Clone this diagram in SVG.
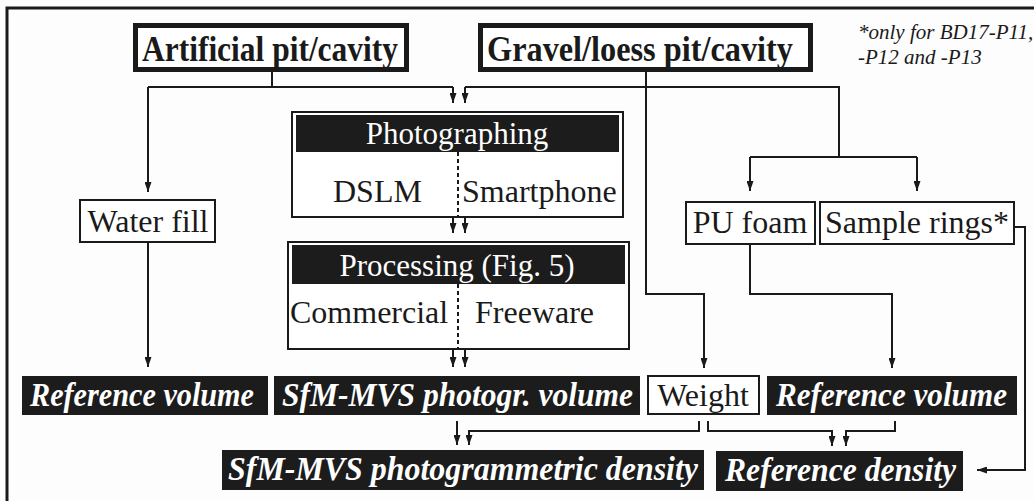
<svg xmlns="http://www.w3.org/2000/svg" width="1034" height="501" viewBox="0 0 1034 501">
<defs>
<marker id="ah" viewBox="0 0 10 7" refX="10" refY="3.5" markerWidth="10" markerHeight="7" markerUnits="userSpaceOnUse" orient="auto">
<path d="M0,0 L10,3.5 L0,7 z" fill="#1a1a1a"/>
</marker>
<style>
.t{font-family:"Liberation Serif","Times New Roman",serif;fill:#1a1a1a}
.reg{font-size:32px}
.bold{font-size:36px;font-weight:bold}
.wb{font-size:34px;font-weight:bold;font-style:italic;fill:#fff}
.wr{font-size:31px;fill:#fff}
.note{font-size:21px;font-style:italic}
.blk{fill:#1c1c1c}
.box{fill:#fff;stroke:#1a1a1a;stroke-width:2}
.thick{fill:#fff;stroke:#1a1a1a;stroke-width:5}
.c{fill:none;stroke:#1a1a1a;stroke-width:2}
.a{marker-end:url(#ah)}
.dot{stroke:#1a1a1a;stroke-width:2;stroke-dasharray:4 3}
</style>
</defs>
<rect width="1034" height="501" fill="#fdfdfd"/>
<g id="frame"><path d="M7,501 V8 H1034" fill="none" stroke="#1a1a1a" stroke-width="3"/></g>

<g id="connectors">
<path class="c" d="M272,72 V87 M148,87 H453"/>
<path class="c a" d="M148,87 V192"/>
<path class="c a" d="M453,87 V103"/>
<path class="c a" d="M646,72 V294 H704 V368"/>
<path class="c" d="M465,87 H839 V157 M750,157 H917"/>
<path class="c a" d="M465,87 V103"/>
<path class="c a" d="M750,157 V191"/>
<path class="c a" d="M917,157 V191"/>
<path class="c a" d="M453,217 V233"/>
<path class="c a" d="M465,217 V233"/>
<path class="c a" d="M453,349 V367"/>
<path class="c a" d="M465,349 V367"/>
<path class="c a" d="M148,242 V367"/>
<path class="c a" d="M750,244 V294 H892 V368"/>
<path class="c a" d="M1014,227 H1025 V470 H977"/>
<path class="c a" d="M457,421 V445"/>
<path class="c a" d="M699,421 V431 H469 V445"/>
<path class="c a" d="M708,421 V431 H832 V446"/>
<path class="c a" d="M895,421 V431 H846 V446"/>
</g>

<g id="artificial">
<rect class="thick" x="135.5" y="25.5" width="271" height="44"/>
<text class="t bold" x="142" y="61" textLength="256" lengthAdjust="spacingAndGlyphs">Artificial pit/cavity</text>
</g>
<g id="gravel">
<rect class="thick" x="480.5" y="25.5" width="330" height="44"/>
<text class="t bold" x="487" y="61" textLength="306" lengthAdjust="spacingAndGlyphs">Gravel/loess pit/cavity</text>
</g>
<g id="note">
<text class="t note" x="858" y="39">*only for BD17-P11,</text>
<text class="t note" x="858" y="64">-P12 and -P13</text>
</g>

<g id="photographing">
<rect class="box" x="292" y="112" width="331" height="105"/>
<rect class="blk" x="296" y="115" width="323" height="37"/>
<text class="t wr" x="457" y="144" text-anchor="middle">Photographing</text>
<line class="dot" x1="458" y1="152" x2="458" y2="217"/>
<text class="t reg" x="333" y="202">DSLM</text>
<text class="t reg" x="462" y="202">Smartphone</text>
</g>

<g id="processing">
<rect class="box" x="288" y="242" width="341" height="107"/>
<rect class="blk" x="292" y="245" width="333" height="39"/>
<text class="t wr" x="457" y="276" text-anchor="middle">Processing (Fig. 5)</text>
<line class="dot" x1="458" y1="284" x2="458" y2="349"/>
<text class="t reg" x="290" y="323">Commercial</text>
<text class="t reg" x="475" y="323">Freeware</text>
</g>

<g id="waterfill">
<rect class="box" x="80" y="200" width="135" height="42"/>
<text class="t reg" x="148" y="232" text-anchor="middle">Water fill</text>
</g>
<g id="pufoam">
<rect class="box" x="686" y="202" width="129" height="42"/>
<text class="t reg" x="750" y="233" text-anchor="middle">PU foam</text>
</g>
<g id="samplerings">
<rect class="box" x="820" y="202" width="194" height="42"/>
<text class="t reg" x="917" y="233" text-anchor="middle">Sample rings*</text>
</g>

<g id="refvol1">
<rect class="blk" x="22" y="376" width="246" height="39"/>
<text class="t wb" x="30" y="406" textLength="224" lengthAdjust="spacingAndGlyphs">Reference volume</text>
</g>
<g id="sfmvol">
<rect class="blk" x="274" y="376" width="366" height="39"/>
<text class="t wb" x="282" y="406" textLength="351" lengthAdjust="spacingAndGlyphs">SfM-MVS photogr. volume</text>
</g>
<g id="weight">
<rect class="box" x="648" y="376" width="111" height="38"/>
<text class="t reg" x="703" y="406" text-anchor="middle">Weight</text>
</g>
<g id="refvol2">
<rect class="blk" x="767" y="376" width="250" height="39"/>
<text class="t wb" x="776" y="406" textLength="231" lengthAdjust="spacingAndGlyphs">Reference volume</text>
</g>
<g id="sfmdensity">
<rect class="blk" x="222" y="450" width="482" height="40"/>
<text class="t wb" x="228" y="480" textLength="470" lengthAdjust="spacingAndGlyphs">SfM-MVS photogrammetric density</text>
</g>
<g id="refdensity">
<rect class="blk" x="716" y="451" width="247" height="40"/>
<text class="t wb" x="725" y="481" textLength="231" lengthAdjust="spacingAndGlyphs">Reference density</text>
</g>
</svg>
